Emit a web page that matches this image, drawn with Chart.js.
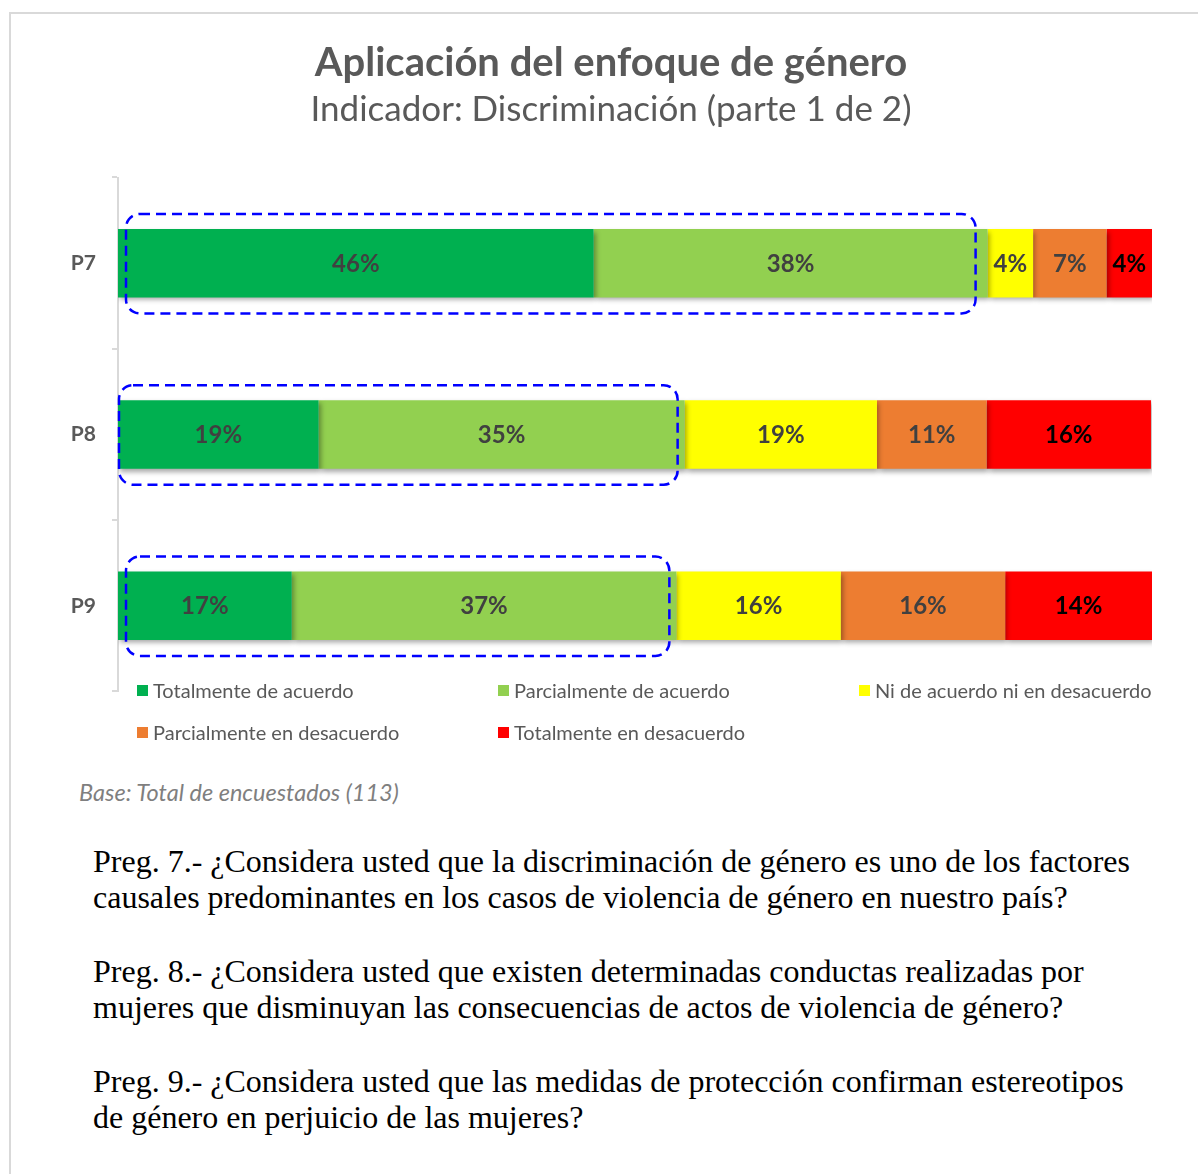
<!DOCTYPE html>
<html lang="es">
  <head>
    <meta charset="UTF-8" />
    <title>Aplicación del enfoque de género</title>
    <script src="https://cdn.jsdelivr.net/npm/chart.js"></script>
    <style>
      html, body { margin: 0; padding: 0; background: #fff; overflow: hidden; }
      body { width: 1198px; height: 1174px; position: relative; }
      .frame {
        position: absolute; left: 9px; top: 12px; width: 1300px; height: 1300px;
        border: 2px solid #d9d9d9; box-sizing: border-box;
      }
      #wrap { position: absolute; left: 0; top: 0; width: 1198px; height: 720px; }
      .legend {
        position: absolute; left: 137px; top: 677px; width: 1061px;
        font-family: Lato, "Open Sans", sans-serif; font-size: 20px; color: #595959;
      }
      .legend .item {
        position: absolute; white-space: nowrap; display: flex; align-items: center; height: 26px;
      }
      .legend .box { width: 11px; height: 11px; margin-right: 5px; display: inline-block; }
      .base {
        position: absolute; left: 79px; top: 778px; font-family: Lato, sans-serif;
        font-style: italic; font-size: 23.5px; color: #7f7f7f; white-space: nowrap;
      }
      .preg {
        position: absolute; left: 93px; font-family: "Liberation Serif", "Times New Roman", serif;
        font-size: 32px; line-height: 36px; color: #000; white-space: nowrap; margin: 0;
      }
    </style>
  </head>
  <body>
    <div class="frame"></div>
    <div id="wrap"><canvas id="myChart"></canvas></div>
    <div class="legend" id="legend"></div>
    <div class="base">Base: Total de encuestados (113)</div>
    <p class="preg" style="top:843px">Preg. 7.- ¿Considera usted que la discriminación de género es uno de los factores<br>causales predominantes en los casos de violencia de género en nuestro país?</p>
    <p class="preg" style="top:953px">Preg. 8.- ¿Considera usted que existen determinadas conductas realizadas por<br>mujeres que disminuyan las consecuencias de actos de violencia de género?</p>
    <p class="preg" style="top:1063px">Preg. 9.- ¿Considera usted que las medidas de protección confirman estereotipos<br>de género en perjuicio de las mujeres?</p>

    <script>
      // data
      let preguntas = ["P7", "P8", "P9"];
      let respuestas = [
        "Totalmente de acuerdo",
        "Parcialmente de acuerdo",
        "Ni de acuerdo ni en desacuerdo",
        "Parcialmente en desacuerdo",
        "Totalmente en desacuerdo",
      ];
      let totalAcuerdo = [46.0, 19.4, 16.8];
      let parcialAcuerdo = [38.1, 35.4, 37.2];
      let niAcuerdo = [4.4, 18.6, 15.9];
      let parcialDesacuerdo = [7.1, 10.6, 15.9];
      let totalDesacuerdo = [4.4, 15.9, 14.2];

      let colores = ["#00B050", "#92D050", "#FFFF00", "#ED7D31", "#FF0000"];
      let colorEtiqueta = ["#404040", "#404040", "#404040", "#404040", "#000000"];
      let series = [totalAcuerdo, parcialAcuerdo, niAcuerdo, parcialDesacuerdo, totalDesacuerdo];

      // shadow under the bars + value labels + dashed boxes around the "acuerdo" part
      const barExtras = {
        id: "barExtras",
        beforeDatasetsDraw(chart) {
          const ctx = chart.ctx;
          ctx.save();
          ctx.shadowColor = "rgba(0,0,0,0.35)";
          ctx.shadowBlur = 5;
          ctx.shadowOffsetX = 2;
          ctx.shadowOffsetY = 3;
        },
        afterDatasetsDraw(chart) {
          const ctx = chart.ctx;
          ctx.restore();

          ctx.save();
          ctx.font = "bold 24px Lato, 'Open Sans', sans-serif";
          ctx.textAlign = "center";
          ctx.textBaseline = "middle";
          chart.data.datasets.forEach((ds, i) => {
            chart.getDatasetMeta(i).data.forEach((bar, j) => {
              let x = (bar.x + bar.base) / 2;
              ctx.fillStyle = colorEtiqueta[i];
              ctx.fillText(Math.round(ds.data[j]) + "%", x, bar.y + 1);
            });
          });

          // dashed boxes
          const xs = chart.scales.x;
          ctx.strokeStyle = "#0000FF";
          ctx.lineWidth = 2.5;
          ctx.setLineDash([10, 6]);
          let meta = chart.getDatasetMeta(0);
          preguntas.forEach((p, j) => {
            let bar = meta.data[j];
            let x0 = xs.getPixelForValue(0) + (j == 1 ? 1 : 8);
            let x1 = xs.getPixelForValue(totalAcuerdo[j] + parcialAcuerdo[j]) - (j == 0 ? 12 : 7);
            let y0 = bar.y - bar.height / 2 - 15;
            let y1 = bar.y + bar.height / 2 + 16;
            ctx.beginPath();
            ctx.roundRect(x0, y0, x1 - x0, y1 - y0, 14);
            ctx.stroke();
          });
          ctx.restore();
        },
      };

      function chart() {
        const ctx = document.getElementById("myChart");

        return new Chart(ctx, {
          type: "bar",
          data: {
            labels: preguntas,
            datasets: respuestas.map((r, i) => ({
              label: r,
              data: series[i],
              backgroundColor: colores[i],
              borderWidth: 0,
              barPercentage: 0.4,
              categoryPercentage: 1,
            })),
          },
          options: {
            indexAxis: "y",
            responsive: true,
            maintainAspectRatio: false,
            animation: false,
            layout: { padding: { left: 70, right: 46, top: 0, bottom: 10 } },
            plugins: {
              legend: { display: false },
              tooltip: { enabled: false },
              title: {
                display: true,
                text: "Aplicación del enfoque de género",
                color: "#595959",
                font: { family: "Lato, 'Open Sans', sans-serif", size: 40, weight: "bold", lineHeight: 1.2 },
                padding: { top: 39, bottom: 0 },
              },
              subtitle: {
                display: true,
                text: "Indicador: Discriminación (parte 1 de 2)",
                color: "#595959",
                font: { family: "Lato, 'Open Sans', sans-serif", size: 35, lineHeight: 1.2 },
                padding: { top: 2, bottom: 46.5 },
              },
            },
            scales: {
              x: {
                stacked: true,
                min: 0,
                max: 100,
                display: false,
              },
              y: {
                stacked: true,
                afterFit(scale) { scale.width = 48; },
                border: { color: "#d9d9d9", width: 2 },
                grid: {
                  offset: true,
                  drawOnChartArea: false,
                  color: "#d9d9d9",
                  lineWidth: 2,
                  tickLength: 6,
                },
                ticks: {
                  color: "#595959",
                  padding: 16,
                  font: { family: "Lato, 'Open Sans', sans-serif", size: 21, weight: "bold" },
                },
              },
            },
          },
          plugins: [barExtras],
        });
      }

      let myChart = chart();

      // legend in fixed columns like the original
      let legendDiv = document.getElementById("legend");
      myChart.data.datasets.forEach((ds, i) => {
        let item = document.createElement("div");
        item.className = "item";
        item.style.left = (i % 3) * 361 + "px";
        item.style.top = Math.floor(i / 3) * 42 + "px";
        item.innerHTML = '<span class="box" style="background:' + ds.backgroundColor + '"></span>' + ds.label;
        legendDiv.appendChild(item);
      });
    </script>
  </body>
</html>
